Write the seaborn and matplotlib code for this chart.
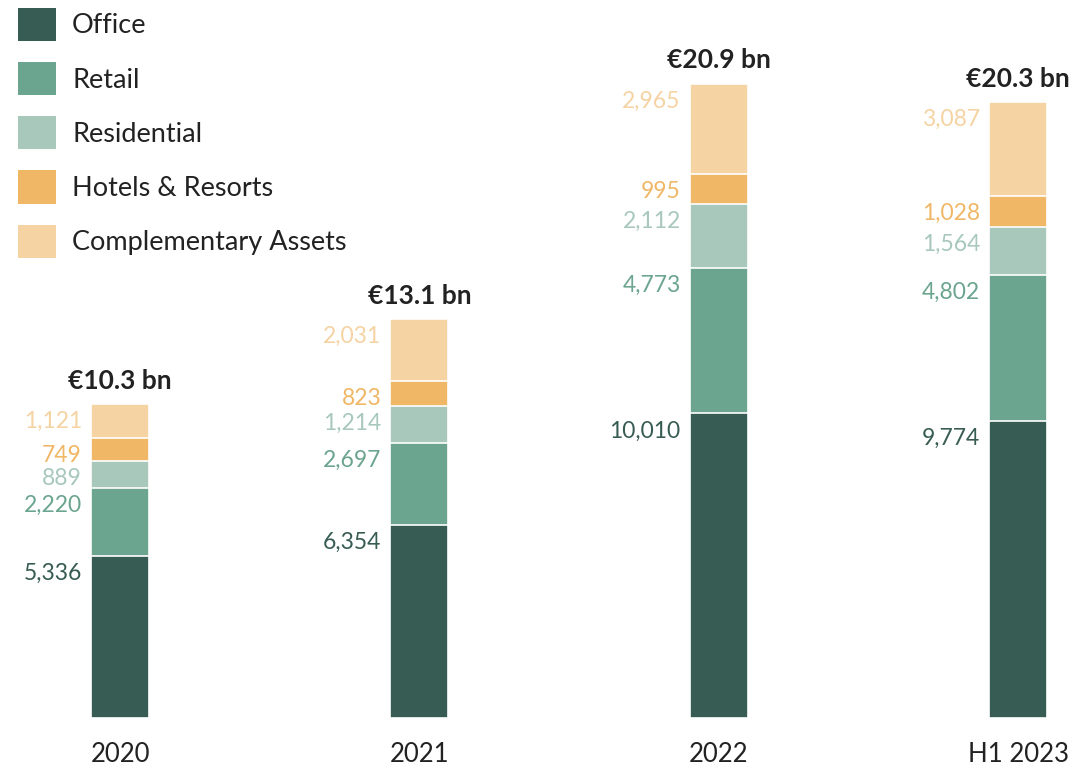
import numpy as np
import pandas as pd
import matplotlib
matplotlib.use("Agg")
import matplotlib.pyplot as plt
from matplotlib.patches import Patch
import seaborn as sns

# -------------------------------------------------------
# DATA (EUR m)
# -------------------------------------------------------
years = ["2020", "2021", "2022", "H1 2023"]
segments = ["Office", "Retail", "Residential", "Hotels & Resorts", "Complementary Assets"]
office = [5336, 6354, 10010, 9774]
retail = [2220, 2697, 4773, 4802]
residential = [889, 1214, 2112, 1564]
hotels = [749, 823, 995, 1028]
complementary = [1121, 2031, 2965, 3087]
totals = ["€10.3 bn", "€13.1 bn", "€20.9 bn", "€20.3 bn"]

colors = ["#375c53", "#6ca58f", "#a8c8bc", "#f0b766", "#f5d3a3"]

values = np.array([office, retail, residential, hotels, complementary])
cum = values.cumsum(axis=0)

sns.set_theme(style="white")
plt.rcParams["font.family"] = ["Lato", "DejaVu Sans"]

fig = plt.figure(figsize=(10.75, 7.7), dpi=100)
ax = fig.add_axes([0, 52 / 770, 1, 718 / 770])

bar_w = 0.194
# draw cumulative bars from the top layer down so each overlays the next
for i in range(len(segments) - 1, -1, -1):
    df = pd.DataFrame({"year": years, "value": cum[i]})
    sns.barplot(data=df, x="year", y="value", order=years, color=colors[i],
                saturation=1, width=bar_w, errorbar=None,
                edgecolor="white", linewidth=1.2, ax=ax)

# segment value labels, left of each bar, at top of segment
for i in range(len(segments)):
    for j in range(len(years)):
        ax.annotate(f"{values[i, j]:,}", xy=(j - bar_w / 2, cum[i, j]),
                    xytext=(-6.5, -5), textcoords="offset points",
                    ha="right", va="top", fontsize=16.5, color=colors[i])

# totals above bars
for j in range(len(years)):
    ax.annotate(totals[j], xy=(j, cum[-1, j]), xytext=(0, 8),
                textcoords="offset points", ha="center", va="bottom",
                fontsize=19, fontweight="bold", color="#222222")

ax.set_xlim(-0.401, 3.19)
ax.set_ylim(0, 23600)
ax.set_xlabel("")
ax.set_ylabel("")
ax.set_yticks([])
ax.tick_params(axis="x", length=0, pad=17, labelsize=18.5, labelcolor="#222222")
for s in ax.spines.values():
    s.set_visible(False)

handles = [Patch(facecolor=c, edgecolor="none") for c in colors]
fig.legend(handles, segments, loc="upper left",
           bbox_to_anchor=(18 / 1075, 1 - 8 / 770), frameon=False,
           fontsize=19.5, handlelength=1.4, handleheight=1.5,
           labelspacing=0.78, handletextpad=0.6, borderpad=0,
           borderaxespad=0, labelcolor="#222222")

fig.savefig("out.png", dpi=100)
